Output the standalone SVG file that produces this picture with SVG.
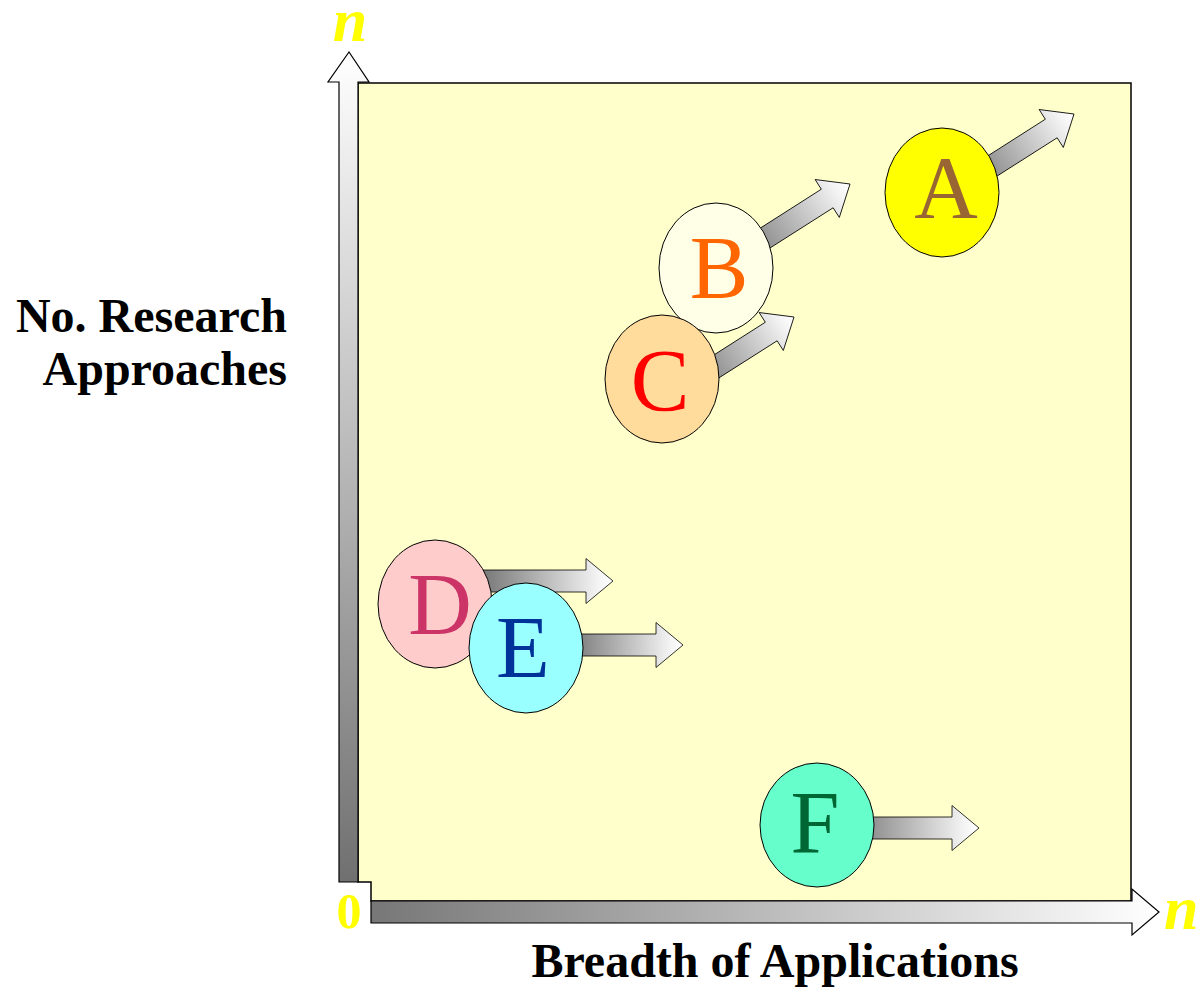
<svg xmlns="http://www.w3.org/2000/svg" width="1198" height="991" viewBox="0 0 1198 991">
  <style>
    .lbl { font-family: "Liberation Serif", "Times New Roman", serif; font-weight: bold; font-size: 48px; fill: #000; }
    .axn { font-family: "Liberation Serif", "Times New Roman", serif; font-weight: bold; font-style: italic; font-size: 62px; fill: #FFFF00; }
    .zero { font-family: "Liberation Serif", "Times New Roman", serif; font-weight: bold; font-size: 50px; fill: #FFFF00; }
    .node { stroke: #000; stroke-width: 1; }
    .ltr { font-family: "Liberation Serif", "Times New Roman", serif; font-size: 88px; text-anchor: middle; }
    .arr { fill: url(#shade); stroke: #000; stroke-width: 0.8; stroke-linejoin: miter; }
    .axis { stroke: #000; stroke-width: 1.2; }
  </style>
  <defs>
    <linearGradient id="shade" x1="0" y1="0" x2="1" y2="0">
      <stop offset="0" stop-color="#6a6a6a"/>
      <stop offset="0.9" stop-color="#f4f4f4"/>
      <stop offset="1" stop-color="#ffffff"/>
    </linearGradient>
    <linearGradient id="vshade" x1="0" y1="0" x2="0" y2="1">
      <stop offset="0" stop-color="#ffffff"/>
      <stop offset="1" stop-color="#707070"/>
    </linearGradient>
    <linearGradient id="hshade" x1="0" y1="0" x2="1" y2="0">
      <stop offset="0" stop-color="#777777"/>
      <stop offset="1" stop-color="#ffffff"/>
    </linearGradient>
  </defs>

  <!-- plotting field -->
  <path id="field" d="M358,83 H1131 V901 H371 V882 H358 Z" fill="#FFFFCC" stroke="#000" stroke-width="1.5"/>

  <!-- axes -->
  <g id="axes">
    <path class="axis" fill="url(#vshade)" d="M339,882 V82 H328 L349,52 L369,82 H358 V882 Z"/>
    <path class="axis" fill="url(#hshade)" d="M371,901 H1132 V889 L1159,912 L1132,935 V923 H371 Z"/>
    <text class="axn" x="350" y="41" text-anchor="middle">n</text>
    <text class="axn" x="1164" y="929">n</text>
    <text class="zero" x="349" y="928" text-anchor="middle">0</text>
    <text class="lbl" x="287" y="332" text-anchor="end">No. Research</text>
    <text class="lbl" x="287" y="385" text-anchor="end">Approaches</text>
    <text class="lbl" x="775" y="977" text-anchor="middle">Breadth of Applications</text>
  </g>

  <!-- trend arrows (tip at local origin, pointing along +x) -->
  <g id="connectors">
    <path id="arrow-a" class="arr" transform="translate(1074,114) rotate(-32.5)" d="M-135,-11 H-27 V-22.5 L0,0 L-27,22.5 V11 H-135 Z"/>
    <path id="arrow-b" class="arr" transform="translate(850,184) rotate(-32.5)" d="M-140,-11 H-27 V-22.5 L0,0 L-27,22.5 V11 H-140 Z"/>
    <path id="arrow-d" class="arr" transform="translate(613,581)" d="M-143,-11 H-27 V-22.5 L0,0 L-27,22.5 V11 H-143 Z"/>
    <path id="arrow-f" class="arr" transform="translate(979,828)" d="M-144,-11 H-27 V-22.5 L0,0 L-27,22.5 V11 H-144 Z"/>
  </g>

  <g id="node-a">
    <ellipse class="node" cx="942" cy="192.5" rx="57" ry="64.5" fill="#FFFF00"/>
    <text class="ltr" x="946" y="217" fill="#996633">A</text>
  </g>
  <g id="node-b">
    <ellipse class="node" cx="716" cy="268" rx="57" ry="65" fill="#FFFFE8"/>
    <text class="ltr" x="719" y="297" fill="#FF6600">B</text>
  </g>
  <g id="node-c">
    <path id="arrow-c" class="arr" transform="translate(794,317) rotate(-32.5)" d="M-130,-11 H-27 V-22.5 L0,0 L-27,22.5 V11 H-130 Z"/>
    <ellipse class="node" cx="662" cy="379" rx="57" ry="64" fill="#FFDB9C"/>
    <text class="ltr" x="660" y="410" fill="#FF0000">C</text>
  </g>
  <g id="node-d">
    <ellipse class="node" cx="435" cy="604" rx="57" ry="64" fill="#FFCCCC"/>
    <text class="ltr" x="440" y="634" fill="#CC3366">D</text>
  </g>
  <g id="node-e">
    <path id="arrow-e" class="arr" transform="translate(683,645)" d="M-123,-11 H-27 V-22.5 L0,0 L-27,22.5 V11 H-123 Z"/>
    <ellipse class="node" cx="526" cy="648" rx="57" ry="65" fill="#99FFFF"/>
    <text class="ltr" x="523" y="677" fill="#003399">E</text>
  </g>
  <g id="node-f">
    <ellipse class="node" cx="817" cy="825" rx="57" ry="62" fill="#66FFCC"/>
    <text class="ltr" x="815" y="852" fill="#006633">F</text>
  </g>
</svg>
